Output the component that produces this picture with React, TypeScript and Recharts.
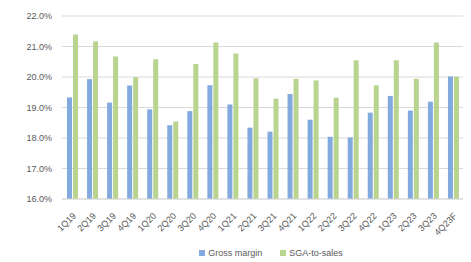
import { BarChart, Bar, XAxis, YAxis, CartesianGrid, Legend } from 'recharts'

const quarters = [
  '1Q19', '2Q19', '3Q19', '4Q19', '1Q20', '2Q20', '3Q20', '4Q20', '1Q21', '2Q21',
  '3Q21', '4Q21', '1Q22', '2Q22', '3Q22', '4Q22', '1Q23', '2Q23', '3Q23', '4Q23F'
]
const grossMargin = [
  19.33, 19.93, 19.16, 19.72, 18.94, 18.42, 18.88, 19.73, 19.10, 18.34,
  18.21, 19.44, 18.60, 18.04, 18.02, 18.83, 19.38, 18.90, 19.19, 20.02
]
const sgaToSales = [
  21.39, 21.16, 20.67, 19.99, 20.58, 18.54, 20.43, 21.13, 20.77, 19.96,
  19.29, 19.94, 19.89, 19.32, 20.55, 19.73, 20.55, 19.94, 21.13, 20.01
]
const yTicks = [16, 17, 18, 19, 20, 21, 22]

const BLUE = '#82aadf'
const GREEN = '#b9d48f'
const TEXT = '#595959'
const FONT = '"Liberation Sans", Arial, sans-serif'

const data = quarters.map((q, i) => ({
  quarter: q,
  gm: grossMargin[i],
  sga: sgaToSales[i]
}))

const series = [
  { name: 'Gross margin', color: BLUE },
  { name: 'SGA-to-sales', color: GREEN }
]

function ChartLegend() {
  return (
    <div style={{ display: 'flex', justifyContent: 'center', fontFamily: FONT, fontSize: 9, color: TEXT }}>
      {series.map((s) => (
        <span key={s.name} style={{ display: 'inline-flex', alignItems: 'center', margin: '0 9px' }}>
          <span style={{ width: 6, height: 6, background: s.color, display: 'inline-block', marginRight: 3 }} />
          {s.name}
        </span>
      ))}
    </div>
  )
}

export default function App() {
  return (
    <div style={{ position: 'absolute', left: 0, top: 0, width: 471, height: 262, background: '#fff' }}>
      <BarChart
        width={471}
        height={262}
        data={data}
        margin={{ top: 16, right: 8, left: 0, bottom: 0 }}
        barSize={5}
        barGap={1}
      >
        <CartesianGrid vertical={false} stroke="#d9d9d9" />
        <XAxis
          dataKey="quarter"
          interval={0}
          height={63}
          tickLine={false}
          tickMargin={7}
          axisLine={{ stroke: '#d9d9d9' }}
          angle={-45}
          textAnchor="end"
          tick={{ fill: TEXT, fontSize: 9, fontFamily: FONT }}
        />
        <YAxis
          width={62}
          domain={[16, 22]}
          ticks={yTicks}
          interval={0}
          axisLine={false}
          tickLine={false}
          tickMargin={4}
          tickFormatter={(v: number) => `${v.toFixed(1)}%`}
          tick={{ fill: TEXT, fontSize: 9, fontFamily: FONT }}
        />
        <Legend
          verticalAlign="middle"
          align="center"
          content={() => <ChartLegend />}
          wrapperStyle={{ top: 248, left: 71, width: 400 }}
        />
        <Bar dataKey="gm" name="Gross margin" fill={BLUE} isAnimationActive={false} />
        <Bar dataKey="sga" name="SGA-to-sales" fill={GREEN} isAnimationActive={false} />
      </BarChart>
    </div>
  )
}
